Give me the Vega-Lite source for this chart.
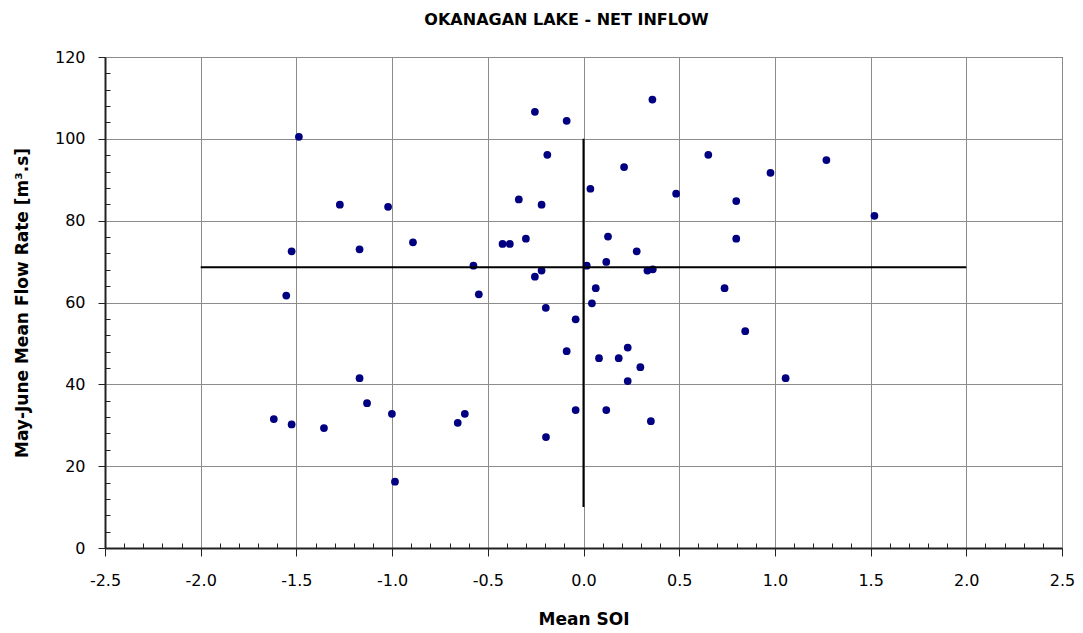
{
  "$schema": "https://vega.github.io/schema/vega-lite/v6.json",
  "width": 957,
  "height": 491,
  "autosize": "none",
  "padding": {"left": 105, "top": 57, "right": 21, "bottom": 85},
  "background": "white",
  "config": {
    "font": "DejaVu Sans",
    "view": {"stroke": "black", "strokeWidth": 1}
  },
  "title": {
    "text": "OKANAGAN LAKE - NET INFLOW",
    "font": "DejaVu Sans",
    "fontSize": 16,
    "fontWeight": "bold",
    "color": "black",
    "anchor": "middle",
    "baseline": "alphabetic",
    "offset": 8,
    "dx": -17
  },
  "datasets": {
    "obs": [
      {"soi": -1.487, "flow": 100.5},
      {"soi": -1.273, "flow": 83.9},
      {"soi": -1.021, "flow": 83.4},
      {"soi": -1.525, "flow": 72.5},
      {"soi": -1.170, "flow": 73.0},
      {"soi": -0.891, "flow": 74.7},
      {"soi": -0.575, "flow": 69.0},
      {"soi": -1.553, "flow": 61.7},
      {"soi": -0.547, "flow": 62.0},
      {"soi": -0.254, "flow": 106.6},
      {"soi": -0.088, "flow": 104.4},
      {"soi": 0.360, "flow": 109.6},
      {"soi": -0.189, "flow": 96.1},
      {"soi": 0.212, "flow": 93.1},
      {"soi": 0.652, "flow": 96.1},
      {"soi": 0.977, "flow": 91.7},
      {"soi": 0.036, "flow": 87.8},
      {"soi": 0.484, "flow": 86.6},
      {"soi": -0.338, "flow": 85.2},
      {"soi": -0.219, "flow": 83.9},
      {"soi": 0.798, "flow": 84.8},
      {"soi": -0.423, "flow": 74.3},
      {"soi": -0.385, "flow": 74.3},
      {"soi": -0.301, "flow": 75.6},
      {"soi": 0.128, "flow": 76.1},
      {"soi": 0.798, "flow": 75.6},
      {"soi": 0.278, "flow": 72.5},
      {"soi": 0.119, "flow": 69.9},
      {"soi": 0.017, "flow": 69.0},
      {"soi": -0.219, "flow": 67.8},
      {"soi": -0.254, "flow": 66.3},
      {"soi": 0.334, "flow": 67.8},
      {"soi": 0.362, "flow": 68.1},
      {"soi": 0.064, "flow": 63.5},
      {"soi": 0.737, "flow": 63.5},
      {"soi": 0.044, "flow": 59.8},
      {"soi": -0.197, "flow": 58.7},
      {"soi": -1.170, "flow": 41.5},
      {"soi": -1.131, "flow": 35.4},
      {"soi": -1.001, "flow": 32.8},
      {"soi": -1.618, "flow": 31.5},
      {"soi": -1.525, "flow": 30.2},
      {"soi": -1.356, "flow": 29.3},
      {"soi": -0.620, "flow": 32.8},
      {"soi": -0.657, "flow": 30.6},
      {"soi": -0.985, "flow": 16.2},
      {"soi": -0.041, "flow": 55.9},
      {"soi": 0.845, "flow": 53.0},
      {"soi": 0.231, "flow": 49.0},
      {"soi": -0.088, "flow": 48.1},
      {"soi": 0.081, "flow": 46.4},
      {"soi": 0.184, "flow": 46.4},
      {"soi": 0.297, "flow": 44.2},
      {"soi": 0.231, "flow": 40.8},
      {"soi": -0.041, "flow": 33.7},
      {"soi": 0.119, "flow": 33.7},
      {"soi": 0.352, "flow": 31.0},
      {"soi": -0.196, "flow": 27.1},
      {"soi": 1.269, "flow": 94.8},
      {"soi": 1.520, "flow": 81.2},
      {"soi": 1.056, "flow": 41.5}
    ],
    "meanFlow": [{"soi": -2.0, "soi2": 2.0, "flow": 68.6}],
    "meanSoi": [{"soi": 0.0, "flow": 10, "flow2": 100}]
  },
  "layer": [
    {
      "data": {"name": "obs"},
      "mark": {"type": "point", "filled": true, "shape": "circle", "size": 60, "color": "#000080", "opacity": 1},
      "encoding": {
        "x": {
          "field": "soi", "type": "quantitative",
          "scale": {"domain": [-2.5, 2.5], "nice": false, "zero": false},
          "axis": {
            "orient": "bottom",
            "title": "Mean SOI",
            "titleFont": "DejaVu Sans", "titleFontSize": 17, "titleFontWeight": "bold", "titleColor": "black",
            "titlePadding": 23,
            "values": [-2.5, -2.0, -1.5, -1.0, -0.5, 0.0, 0.5, 1.0, 1.5, 2.0, 2.5],
            "format": ".1f",
            "labelExpr": "replace(datum.label, '\u2212', '-')",
            "labelFont": "DejaVu Sans", "labelFontSize": 16, "labelColor": "black",
            "labelPadding": 16,
            "labelFlush": false, "labelOverlap": false,
            "tickSize": 8, "tickColor": "#222", "tickWidth": 1,
            "domainColor": "#222", "domainWidth": 2,
            "grid": true, "gridColor": "#8c8c8c", "gridWidth": 1
          }
        },
        "y": {
          "field": "flow", "type": "quantitative",
          "scale": {"domain": [0, 120], "nice": false, "zero": true},
          "axis": {
            "orient": "left",
            "title": "May-June Mean Flow Rate [m³.s]",
            "titleFont": "DejaVu Sans", "titleFontSize": 17, "titleFontWeight": "bold", "titleColor": "black",
            "titlePadding": 23,
            "values": [0, 20, 40, 60, 80, 100, 120],
            "labelFont": "DejaVu Sans", "labelFontSize": 16, "labelColor": "black",
            "labelPadding": 13,
            "labelFlush": false, "labelOverlap": false,
            "tickSize": 7, "tickColor": "#222", "tickWidth": 1,
            "domainColor": "#222", "domainWidth": 2,
            "grid": true, "gridColor": "#8c8c8c", "gridWidth": 1
          }
        }
      }
    },
    {
      "data": {"name": "meanFlow"},
      "mark": {"type": "rule", "color": "black", "strokeWidth": 2},
      "encoding": {
        "x": {
          "field": "soi", "type": "quantitative",
          "axis": {
            "orient": "bottom", "title": null, "labels": false, "domain": false, "grid": false,
            "values": [-2.4, -2.3, -2.2, -2.1, -1.9, -1.8, -1.7, -1.6, -1.4, -1.3, -1.2, -1.1, -0.9, -0.8, -0.7, -0.6, -0.4, -0.3, -0.2, -0.1, 0.1, 0.2, 0.3, 0.4, 0.6, 0.7, 0.8, 0.9, 1.1, 1.2, 1.3, 1.4, 1.6, 1.7, 1.8, 1.9, 2.1, 2.2, 2.3, 2.4],
            "tickSize": -5, "tickColor": "#222", "tickWidth": 1
          }
        },
        "x2": {"field": "soi2"},
        "y": {
          "field": "flow", "type": "quantitative",
          "axis": {
            "orient": "left", "title": null, "labels": false, "domain": false, "grid": false,
            "values": [4, 8, 12, 16, 24, 28, 32, 36, 44, 48, 52, 56, 64, 68, 72, 76, 84, 88, 92, 96, 104, 108, 112, 116],
            "tickSize": -5, "tickColor": "#222", "tickWidth": 1
          }
        }
      }
    },
    {
      "data": {"name": "meanSoi"},
      "mark": {"type": "rule", "color": "black", "strokeWidth": 2},
      "encoding": {
        "x": {"field": "soi", "type": "quantitative", "axis": null},
        "y": {"field": "flow", "type": "quantitative", "axis": null},
        "y2": {"field": "flow2"}
      }
    }
  ],
  "resolve": {"axis": {"x": "independent", "y": "independent"}}
}
